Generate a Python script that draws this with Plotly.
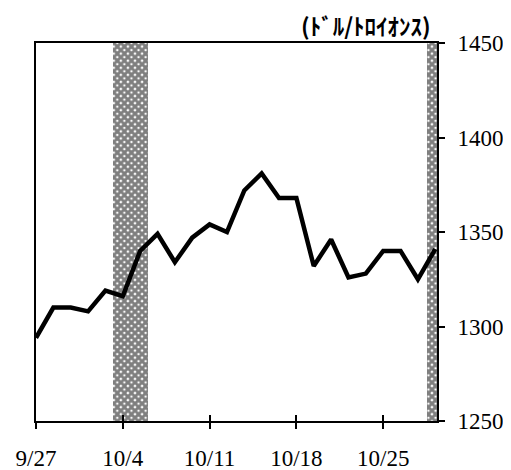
import plotly.graph_objects as go

# trading days (weekdays) shown on the x axis
dates = ["9/27", "9/28", "9/29", "9/30", "10/1",
         "10/4", "10/5", "10/6", "10/7", "10/8",
         "10/11", "10/12", "10/13", "10/14", "10/15",
         "10/18", "10/19", "10/20", "10/21", "10/22",
         "10/25", "10/26", "10/27", "10/28"]
prices = [1294, 1310, 1310, 1308, 1319,
          1316, 1340, 1349, 1334, 1347,
          1354, 1350, 1372, 1381, 1368,
          1368, 1332, 1346, 1326, 1328,
          1340, 1340, 1325, 1341]
tick_labels = ["9/27", "10/4", "10/11", "10/18", "10/25"]
y_ticks = [1250, 1300, 1350, 1400, 1450]

# shaded periods, in trading-day index units
shade_start = [4.45, 22.55]
shade_end = [6.45, 23.1]

x = list(range(len(dates)))
tick_pos = [dates.index(t) for t in tick_labels]
y_min, y_max = y_ticks[0], y_ticks[-1]
x_max = shade_end[-1]

serif = "Liberation Serif"

fig = go.Figure()
fig.add_trace(go.Bar(
    x=[(s + e) / 2 for s, e in zip(shade_start, shade_end)],
    width=[e - s for s, e in zip(shade_start, shade_end)],
    y=[y_max - y_min] * len(shade_start),
    base=[y_min] * len(shade_start),
    marker=dict(color="white", line=dict(width=0),
                pattern=dict(shape="x", fgcolor="black", bgcolor="white",
                             size=5, solidity=0.82)),
    showlegend=False, hoverinfo="skip",
))
fig.add_trace(go.Scatter(
    x=x, y=prices, mode="lines",
    line=dict(color="black", width=4.5),
    showlegend=False,
))
fig.add_trace(go.Scatter(x=[0], y=[y_min], xaxis="x2", mode="markers",
                         marker=dict(opacity=0), showlegend=False,
                         hoverinfo="skip"))

fig.update_layout(
    width=503, height=462,
    margin=dict(l=28, r=74, t=35, b=49),
    paper_bgcolor="white", plot_bgcolor="white",
    bargap=0,
    xaxis=dict(
        range=[0, x_max], tickmode="array", tickvals=tick_pos,
        ticktext=tick_labels, ticks="outside", ticklen=6, tickwidth=2,
        tickcolor="black", showline=True, linecolor="black", linewidth=2,
        mirror=True, showgrid=False, zeroline=False, automargin=False,
        tickfont=dict(family=serif, size=23, color="black"),
        ticklabelstandoff=9,
    ),
    xaxis2=dict(
        overlaying="x", matches="x", range=[0, x_max], anchor="y",
        side="bottom", tickmode="array", tickvals=tick_pos,
        ticks="inside", ticklen=6, tickwidth=2, tickcolor="black",
        showticklabels=False, showline=False, showgrid=False,
        zeroline=False, automargin=False,
    ),
    yaxis=dict(
        range=[y_min, y_max], side="right", tickmode="array",
        tickvals=y_ticks, ticks="outside", ticklen=6, tickwidth=2,
        tickcolor="black", showline=True, linecolor="black", linewidth=2,
        mirror=True, showgrid=False, zeroline=False, automargin=False,
        tickfont=dict(family=serif, size=23, color="black"),
        ticklabelstandoff=8,
    ),
    annotations=[dict(
        text="<b>(ﾄﾞﾙ/ﾄﾛｲｵﾝｽ)</b>", xref="paper", yref="paper",
        x=0.99, y=1.0, xanchor="right", yanchor="middle", yshift=18,
        showarrow=False,
        font=dict(family="Noto Sans CJK JP", size=23, color="black"),
    )],
)

fig.write_html("out.html")
